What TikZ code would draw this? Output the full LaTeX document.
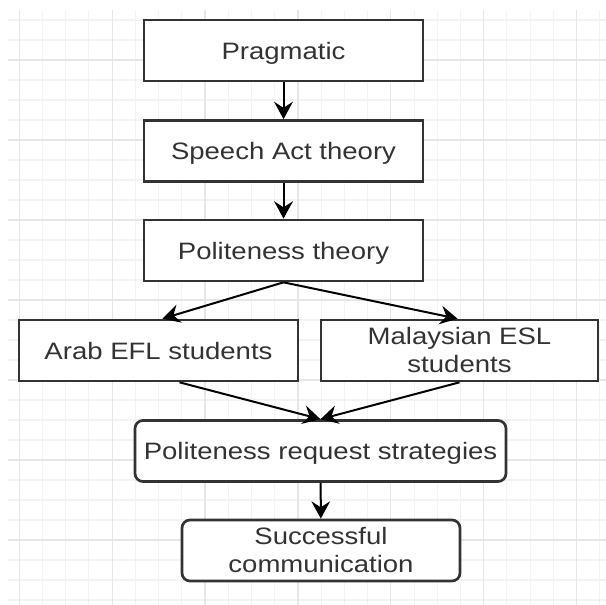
\documentclass[tikz,border=0pt]{standalone}
\usepackage{fontspec}
\setmainfont{Liberation Sans}[FakeStretch=1.16]
\usetikzlibrary{arrows.meta, calc}

\definecolor{boxline}{HTML}{333333}
\definecolor{txt}{HTML}{333333}
\definecolor{gridmajor}{HTML}{E6E6E6}
\definecolor{gridminor}{HTML}{F3F3F3}

\begin{document}
\begin{tikzpicture}[x=0.75pt, y=-0.75pt,
    box/.style={draw=boxline, line width=2pt, fill=white, text=txt, inner sep=0pt,
        minimum height=45.75pt, align=center, font=\fontsize{17.8}{21}\selectfont},
    oneline/.style={text depth=0pt},
    arr/.style={line width=1.5pt, -{Stealth[length=13pt, width=14pt, inset=4.5pt]}},
    minorgrid/.style={gridminor, line width=0.8pt},
    majorgrid/.style={gridmajor, line width=1pt}]

    \useasboundingbox (0,0) rectangle (606,605);

    % Grid
    \foreach \k in {0,...,25}
        \draw[minorgrid] ({19.3+23.22*\k},10) -- ({19.3+23.22*\k},605);
    \foreach \k in {1,...,30}
        \draw[minorgrid] (8,{20*\k}) -- (606,{20*\k});
    \foreach \k in {0,4,...,24}
        \draw[majorgrid] ({19.3+23.22*\k},10) -- ({19.3+23.22*\k},605);
    \foreach \k in {0,...,6}
        \draw[majorgrid] (8,{60+80*\k}) -- (606,{60+80*\k});

    % Theory chain
    \node[box, oneline, minimum width=209.25pt] (prag) at (283.5,50.5) {Pragmatic};
    \node[box, oneline, minimum width=209.25pt] (speech) at (283.5,151) {Speech Act theory};
    \node[box, oneline, minimum width=209.25pt] (polit) at (283.5,250.5) {Politeness theory};

    % Student groups
    \node[box, oneline, minimum width=209.25pt] (arab) at (158.5,350.5) {Arab EFL students};
    \node[box, minimum width=207.75pt] (malay) at (459.5,350.5) {Malaysian ESL\\students};

    % Outcome
    \node[box, oneline, rounded corners=6pt, minimum width=278.25pt] (request) at (320.5,451) {Politeness request strategies};
    \node[box, rounded corners=6pt, minimum width=208.5pt] (success) at (321,550.5) {Successful\\communication};

    % Connectors
    \draw[arr] (prag) -- (speech);
    \draw[arr] (speech) -- (polit);
    \draw[arr] (polit.south) -- ($(arab.north)+(4,0)$);
    \draw[arr] (polit.south) -- ($(malay.north)+(-2,0)$);
    \draw[arr] ($(arab.south)+(21,0)$) -- (request.north);
    \draw[arr] (malay.south) -- (request.north);
    \draw[arr] (request) -- (success);

\end{tikzpicture}
\end{document}
